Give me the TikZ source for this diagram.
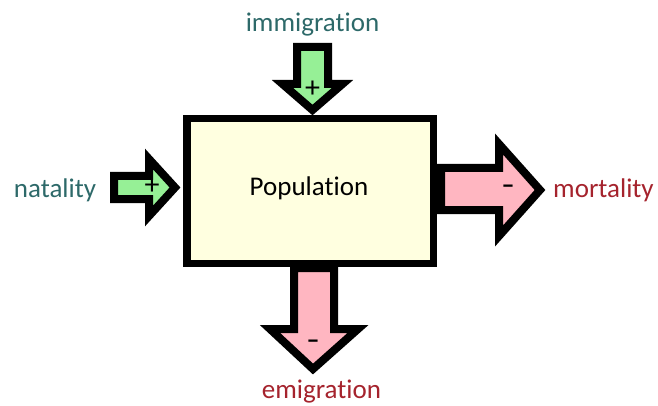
\documentclass[tikz,border=0pt]{standalone}
\usepackage{fontspec}
\setmainfont{Carlito}[Ligatures=NoCommon]
\definecolor{boxfill}{RGB}{255,255,224}
\definecolor{posfill}{RGB}{150,240,150}
\definecolor{negfill}{RGB}{255,182,193}
\definecolor{postext}{RGB}{45,105,105}
\definecolor{negtext}{RGB}{165,35,45}
\begin{document}
\begin{tikzpicture}[x=1pt,y=-1pt,
  lbl/.style={font=\fontsize{27}{30}\selectfont, inner sep=0pt, anchor=base},
  sign/.style={font=\fontsize{30}{32}\selectfont, inner sep=0pt, text=black},
  blockarrow/.style={draw=black, line width=8pt, line join=miter, miter limit=10},
  posarrow/.style={blockarrow, fill=posfill},
  negarrow/.style={blockarrow, fill=negfill},
  popbox/.style={draw=black, line width=7.5pt, fill=boxfill, minimum width=246.5pt, minimum height=145pt, inner sep=0pt}
]
\useasboundingbox (0,0) rectangle (658,406);
% population box
\node[popbox] (pop) at (310.25,191) {};
\node[lbl] (poptext) at (309,195) {Population};
% immigration arrow (down, into box)
\draw[posarrow] (297,47) -- (328,47) -- (328,84) -- (342.5,84) -- (312.5,110) -- (282.5,84) -- (297,84) -- cycle;
\node[sign] (immsign) at (312.5,89) {+};
% natality arrow (right, into box)
\draw[posarrow] (114,176) -- (149,176) -- (149,159) -- (175,187.5) -- (149,216) -- (149,199) -- (114,199) -- cycle;
\node[sign] (natsign) at (152,186.5) {+};
% mortality arrow (right, out of box)
\draw[negarrow] (441,168) -- (499,168) -- (499,144) -- (540,190) -- (499,236) -- (499,210) -- (441,210) -- cycle;
\node[sign, font=\fontsize{26}{30}\selectfont\bfseries] (morsign) at (508,189) {–};
% emigration arrow (down, out of box)
\draw[negarrow] (294,268) -- (334,268) -- (334,329) -- (358,329) -- (313,369) -- (270,329) -- (294,329) -- cycle;
\node[sign, font=\fontsize{26}{30}\selectfont\bfseries] (emisign) at (313,344) {–};
% labels
\node[lbl, text=postext] (imm) at (312.5,32) {immigration};
\node[lbl, text=postext] (nat) at (55,197) {natality};
\node[lbl, text=negtext, anchor=base west] (mor) at (553,197) {mortality};
\node[lbl, text=negtext] (emi) at (321.5,398) {emigration};
\end{tikzpicture}
\end{document}
